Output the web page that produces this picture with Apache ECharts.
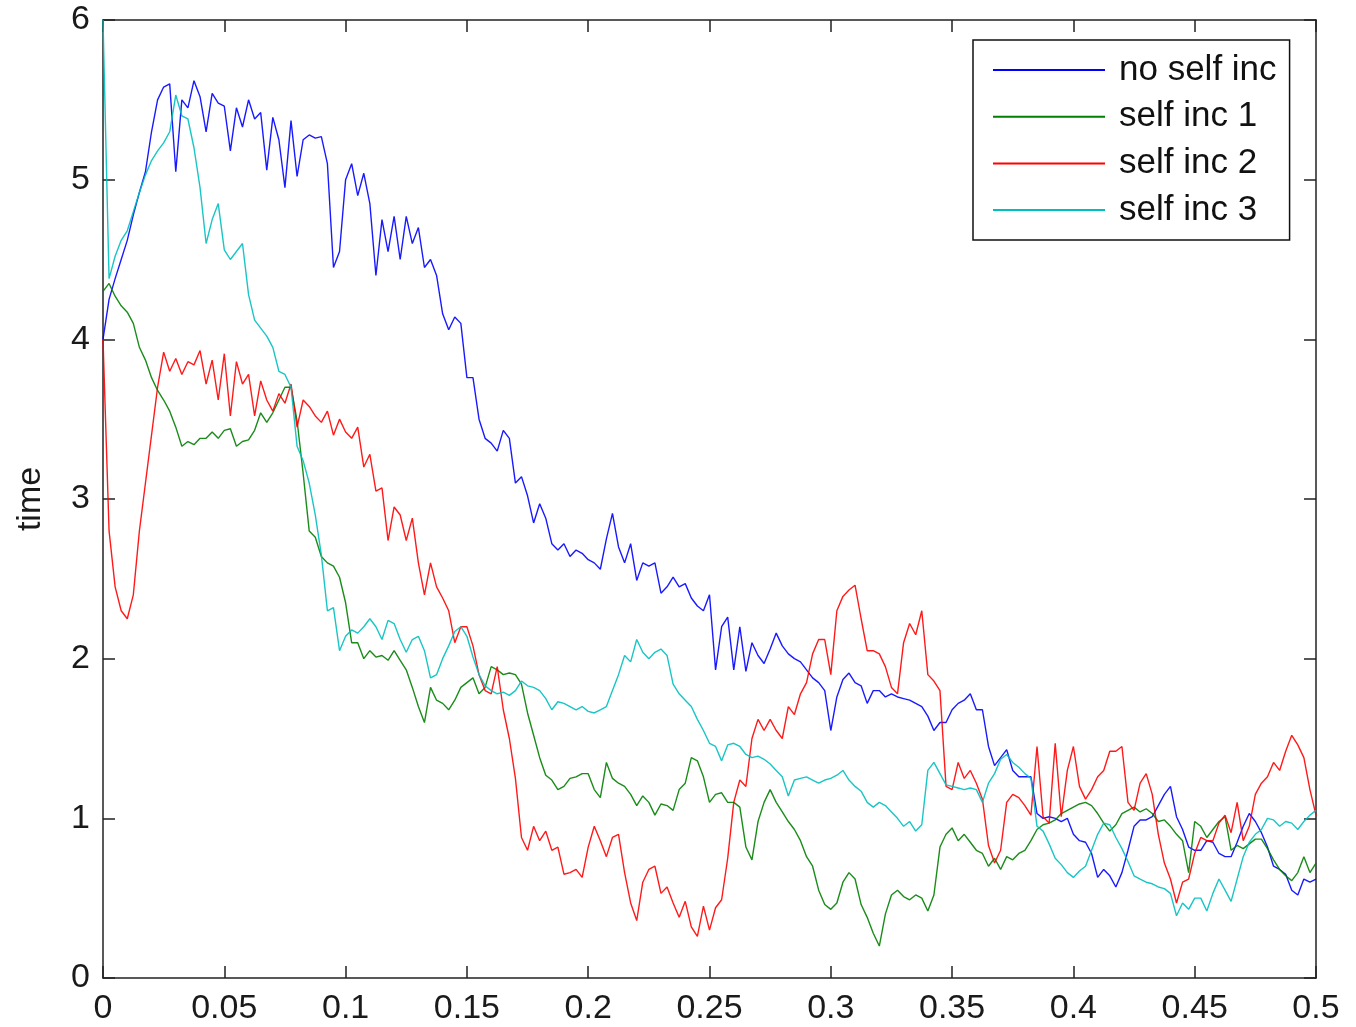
<!DOCTYPE html>
<html>
<head>
<meta charset="utf-8">
<script src="https://cdn.jsdelivr.net/npm/echarts@6/dist/echarts.min.js"></script>
<style>
html,body{margin:0;padding:0;background:#fff;}
#chart{width:1356px;height:1027px;}
</style>
</head>
<body>
<div id="chart"></div>
<script>
// x grid: 201 samples from 0 to 0.5 (step 0.0025)
const STEP = 0.0025;
const NPTS = 201;
const seriesNames = ['no self inc', 'self inc 1', 'self inc 2', 'self inc 3'];
const xTicks = [0, 0.05, 0.1, 0.15, 0.2, 0.25, 0.3, 0.35, 0.4, 0.45, 0.5];
const yTicks = [0, 1, 2, 3, 4, 5, 6];

const noSelfInc = [4.0,4.25,4.38,4.5,4.62,4.78,4.92,5.05,5.3,5.5,
5.58,5.6,5.05,5.5,5.45,5.62,5.52,5.3,5.54,5.48,
5.46,5.18,5.45,5.33,5.5,5.38,5.42,5.06,5.39,5.25,
4.95,5.37,5.02,5.25,5.28,5.26,5.27,5.1,4.45,4.55,
5.0,5.1,4.9,5.04,4.85,4.4,4.75,4.55,4.77,4.5,
4.77,4.6,4.7,4.45,4.5,4.4,4.16,4.06,4.14,4.1,
3.76,3.76,3.5,3.38,3.35,3.3,3.43,3.38,3.1,3.14,
3.02,2.85,2.97,2.88,2.72,2.68,2.72,2.64,2.68,2.66,
2.62,2.6,2.56,2.75,2.91,2.7,2.6,2.72,2.49,2.6,
2.58,2.6,2.41,2.45,2.51,2.45,2.47,2.38,2.33,2.3,
2.4,1.93,2.2,2.26,1.93,2.2,1.92,2.1,2.02,1.97,
2.06,2.16,2.08,2.03,2.0,1.98,1.93,1.88,1.85,1.8,
1.55,1.76,1.87,1.91,1.85,1.83,1.72,1.8,1.8,1.76,
1.78,1.76,1.75,1.74,1.72,1.7,1.64,1.55,1.6,1.6,
1.68,1.72,1.74,1.78,1.68,1.68,1.45,1.33,1.38,1.43,
1.3,1.26,1.26,1.26,1.03,1.0,1.01,1.0,0.98,1.0,
0.9,0.86,0.85,0.78,0.63,0.68,0.64,0.57,0.66,0.8,
0.95,0.99,0.99,1.01,1.08,1.15,1.2,1.01,0.93,0.82,
0.8,0.8,0.86,0.85,0.78,0.76,0.76,0.85,0.95,1.03,
0.98,0.91,0.82,0.7,0.68,0.65,0.55,0.52,0.62,0.6,
0.62];

const selfInc1 = [4.3,4.35,4.27,4.21,4.17,4.1,3.95,3.87,3.76,3.68,
3.62,3.55,3.45,3.33,3.36,3.34,3.38,3.38,3.42,3.38,
3.43,3.44,3.33,3.36,3.37,3.43,3.54,3.48,3.54,3.62,
3.7,3.7,3.49,3.16,2.8,2.76,2.64,2.6,2.58,2.51,
2.35,2.1,2.1,2.0,2.05,2.01,2.02,1.99,2.05,1.99,
1.93,1.82,1.7,1.6,1.82,1.74,1.72,1.68,1.74,1.82,
1.85,1.88,1.78,1.82,1.95,1.93,1.9,1.91,1.9,1.84,
1.66,1.52,1.38,1.27,1.24,1.18,1.2,1.25,1.26,1.28,
1.28,1.18,1.13,1.35,1.25,1.22,1.2,1.15,1.08,1.14,
1.1,1.02,1.09,1.08,1.05,1.18,1.22,1.38,1.36,1.26,
1.1,1.15,1.16,1.1,1.1,1.07,0.82,0.74,0.98,1.1,
1.18,1.1,1.04,0.98,0.93,0.86,0.76,0.7,0.55,0.46,
0.43,0.47,0.6,0.66,0.62,0.46,0.38,0.28,0.2,0.4,
0.52,0.55,0.51,0.49,0.52,0.5,0.42,0.52,0.82,0.9,
0.94,0.86,0.9,0.85,0.8,0.78,0.7,0.75,0.68,0.76,
0.74,0.78,0.8,0.86,0.93,0.96,0.97,0.99,1.03,1.05,
1.07,1.09,1.1,1.08,1.03,0.97,0.92,0.96,1.03,1.05,
1.07,1.04,1.06,1.03,0.98,0.99,0.95,0.9,0.86,0.66,
0.98,0.95,0.88,0.93,0.98,1.01,0.8,0.83,0.81,0.84,
0.87,0.87,0.81,0.74,0.68,0.64,0.61,0.66,0.76,0.66,
0.72];

const selfInc2 = [4.0,2.8,2.45,2.3,2.25,2.4,2.8,3.1,3.4,3.7,
3.92,3.8,3.88,3.78,3.86,3.84,3.93,3.72,3.87,3.62,
3.91,3.52,3.86,3.72,3.78,3.52,3.74,3.62,3.55,3.66,
3.6,3.72,3.45,3.62,3.58,3.52,3.48,3.55,3.4,3.5,
3.42,3.38,3.45,3.2,3.28,3.05,3.07,2.74,2.95,2.9,
2.74,2.88,2.6,2.4,2.6,2.45,2.38,2.3,2.1,2.2,
2.2,2.08,1.9,1.8,1.78,1.95,1.68,1.5,1.25,0.88,
0.8,0.95,0.86,0.92,0.8,0.82,0.65,0.66,0.68,0.63,
0.82,0.95,0.86,0.76,0.88,0.9,0.66,0.47,0.36,0.6,
0.68,0.7,0.53,0.57,0.47,0.38,0.48,0.32,0.26,0.45,
0.3,0.44,0.49,0.75,1.1,1.24,1.2,1.5,1.62,1.55,
1.62,1.55,1.5,1.7,1.65,1.78,1.85,2.03,2.12,2.12,
1.9,2.3,2.39,2.43,2.46,2.25,2.05,2.05,2.03,1.95,
1.82,1.78,2.1,2.22,2.15,2.3,1.9,1.86,1.8,1.2,
1.18,1.35,1.25,1.3,1.22,1.12,0.83,0.72,0.8,1.1,
1.15,1.13,1.08,1.02,1.45,1.01,0.97,1.47,1.01,1.3,
1.45,1.2,1.12,1.18,1.26,1.3,1.42,1.42,1.45,1.1,
1.05,1.22,1.28,1.15,0.9,0.72,0.62,0.47,0.6,0.62,
0.78,0.88,0.86,0.86,0.97,1.02,0.91,1.1,0.86,0.95,
1.15,1.22,1.26,1.35,1.3,1.42,1.52,1.46,1.38,1.18,
1.02];

const selfInc3 = [6.0,4.38,4.52,4.62,4.68,4.8,4.92,5.03,5.12,5.18,
5.23,5.3,5.53,5.4,5.38,5.2,4.95,4.6,4.75,4.85,
4.56,4.5,4.55,4.6,4.28,4.12,4.07,4.02,3.95,3.8,
3.78,3.7,3.33,3.24,3.1,2.9,2.65,2.3,2.32,2.05,
2.14,2.18,2.16,2.2,2.25,2.2,2.12,2.24,2.22,2.12,
2.04,2.12,2.14,2.05,1.88,1.9,2.0,2.08,2.17,2.2,
2.14,2.01,1.9,1.83,1.8,1.78,1.79,1.77,1.8,1.86,
1.83,1.82,1.8,1.75,1.68,1.73,1.72,1.7,1.68,1.7,
1.67,1.66,1.68,1.7,1.8,1.9,2.02,1.98,2.12,2.04,
2.0,2.04,2.06,2.02,1.84,1.78,1.74,1.7,1.62,1.55,
1.47,1.45,1.36,1.46,1.47,1.45,1.4,1.38,1.39,1.37,
1.34,1.3,1.26,1.14,1.24,1.25,1.26,1.24,1.22,1.24,
1.25,1.27,1.3,1.24,1.2,1.17,1.1,1.07,1.1,1.08,
1.04,1.0,0.95,0.98,0.92,0.96,1.3,1.35,1.28,1.21,
1.2,1.19,1.18,1.19,1.18,1.1,1.22,1.28,1.37,1.4,
1.35,1.32,1.28,1.25,0.95,0.92,0.84,0.75,0.71,0.66,
0.63,0.67,0.7,0.8,0.9,0.97,0.96,0.88,0.81,0.73,
0.64,0.62,0.6,0.59,0.57,0.56,0.53,0.39,0.47,0.43,
0.5,0.5,0.42,0.53,0.62,0.55,0.48,0.62,0.76,0.85,
0.9,0.93,1.0,0.99,0.95,0.98,0.97,0.93,0.98,1.02,
1.05];

const seriesValues = [noSelfInc, selfInc1, selfInc2, selfInc3];
const seriesColors = ['#0000ff', '#007f00', '#ff0000', '#00bfbf'];

const xs = [];
for (let i = 0; i < NPTS; i++) xs.push(+(i * STEP).toFixed(4));

const FONT = '"Liberation Sans", Arial, Helvetica, sans-serif';
const AXIS_COLOR = '#222';

function axisCommon(extra) {
  return Object.assign({
    type: 'value',
    axisLine: { show: true, onZero: false, lineStyle: { color: AXIS_COLOR, width: 1.5 } },
    axisTick: { show: true, inside: true, length: 12, lineStyle: { color: AXIS_COLOR, width: 1.5 } },
    splitLine: { show: false },
    axisLabel: { color: '#1a1a1a', fontSize: 34, fontFamily: FONT, margin: 13 }
  }, extra);
}

const chart = echarts.init(document.getElementById('chart'), null, { renderer: 'canvas' });
chart.setOption({
  animation: false,
  backgroundColor: '#ffffff',
  grid: { left: 103, right: 40, top: 20, bottom: 49, containLabel: false },
  xAxis: [
    axisCommon({ position: 'bottom', min: xTicks[0], max: xTicks[xTicks.length - 1], interval: 0.05,
      axisLabel: { color: '#1a1a1a', fontSize: 34, fontFamily: FONT, margin: 14,
        formatter: v => String(+v.toFixed(2)) } }),
    axisCommon({ position: 'top', min: xTicks[0], max: xTicks[xTicks.length - 1], interval: 0.05,
      axisLabel: { show: false } })
  ],
  yAxis: [
    axisCommon({ position: 'left', min: yTicks[0], max: yTicks[yTicks.length - 1], interval: 1,
      name: 'time', nameLocation: 'middle', nameGap: 55, nameRotate: 90,
      nameTextStyle: { color: '#1a1a1a', fontSize: 34, fontFamily: FONT } }),
    axisCommon({ position: 'right', min: yTicks[0], max: yTicks[yTicks.length - 1], interval: 1,
      axisLabel: { show: false } })
  ],
  legend: {
    data: seriesNames,
    orient: 'vertical',
    left: 973,
    top: 40,
    padding: [12.5, 13, 12.5, 20],
    itemGap: 11.7,
    itemWidth: 112,
    itemHeight: 2,
    icon: 'rect',
    borderColor: '#111',
    borderWidth: 1.5,
    backgroundColor: '#ffffff',
    textStyle: { color: '#111', fontSize: 35, lineHeight: 35, fontFamily: FONT, padding: [0, 0, 0, 9] }
  },
  series: seriesNames.map((name, k) => ({
    name: name,
    type: 'line',
    xAxisIndex: 0,
    yAxisIndex: 0,
    showSymbol: false,
    symbol: 'none',
    clip: true,
    color: seriesColors[k],
    lineStyle: { color: seriesColors[k], width: 1.4, opacity: 0.9 },
    data: xs.map((x, i) => [x, seriesValues[k][i]])
  }))
});
</script>
</body>
</html>
